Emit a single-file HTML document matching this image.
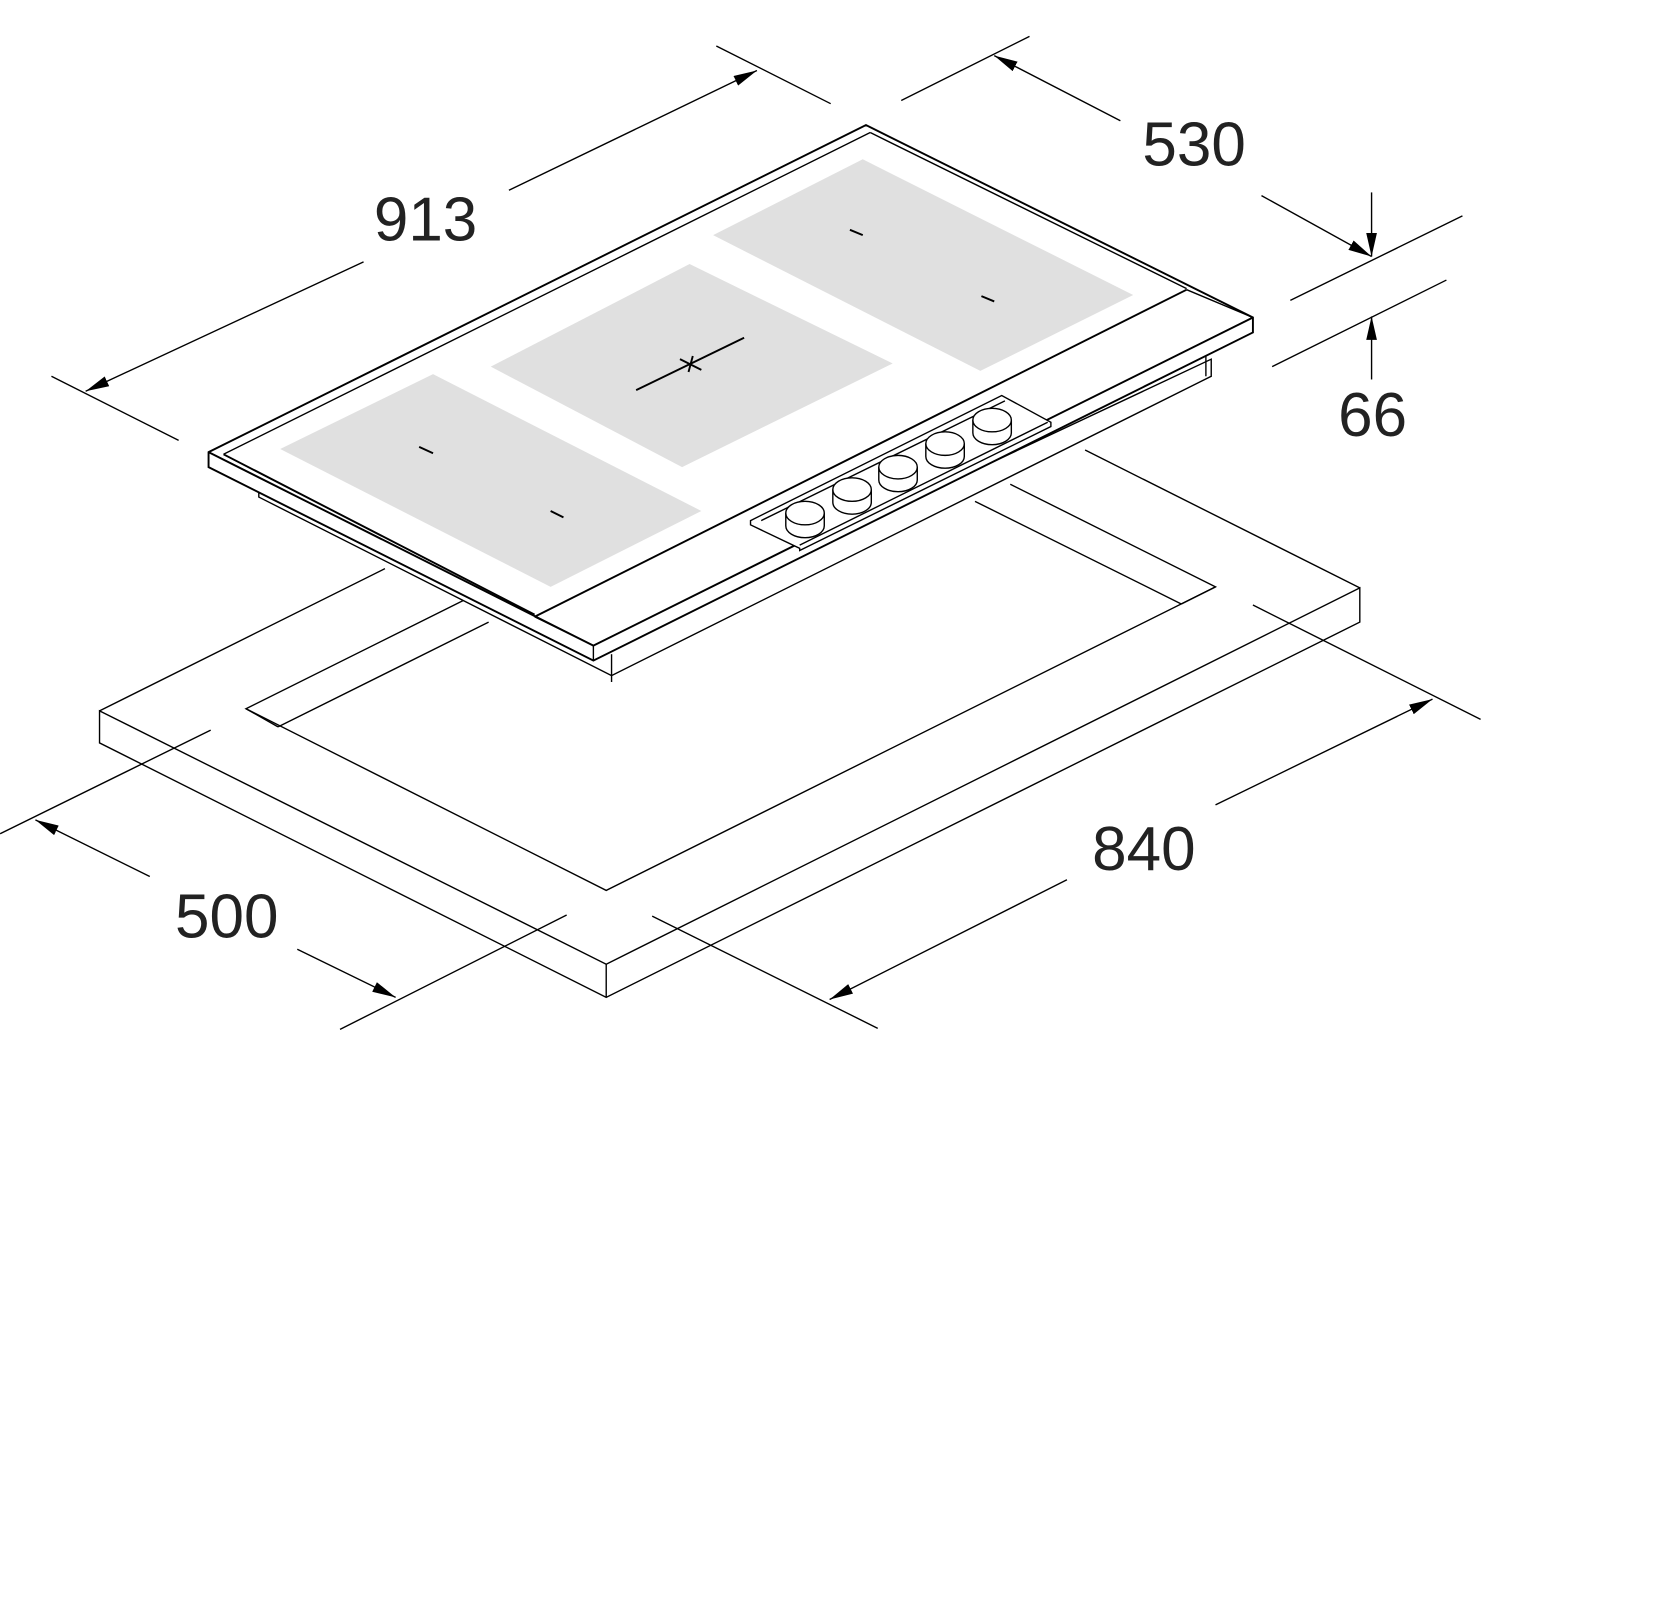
<!DOCTYPE html>
<html><head><meta charset="utf-8"><style>
html,body{margin:0;padding:0;background:#fff}
svg{display:block}
text{font-family:"Liberation Sans",sans-serif;font-size:58px;fill:#222;text-anchor:middle}
</style></head><body>
<svg width="1671" height="1597" viewBox="0 0 1563 1494" xmlns="http://www.w3.org/2000/svg">
<defs>
<marker id="a" viewBox="0 0 22 10" refX="22" refY="5" markerWidth="22" markerHeight="10" markerUnits="userSpaceOnUse" orient="auto"><path d="M0,0 L22,5 L0,10 z" fill="#000"/></marker>
</defs>
<g stroke="#000" stroke-width="1.3" fill="none">
<!-- countertop -->
<polygon points="93,665 567,902 1272,550 1272,582 567,933 93,695" fill="#fff"/>
<line x1="567" y1="902" x2="567" y2="933"/>
<line x1="93" y1="665" x2="360" y2="532"/>
<line x1="1272" y1="550" x2="1015" y2="421"/>
<!-- cutout -->
<polyline points="457,550 230,663 567,833 1137,549 945,453"/>
<line x1="230" y1="663" x2="260" y2="680"/>
<line x1="260" y1="680" x2="457" y2="582"/>
<line x1="1137" y1="549" x2="1105" y2="565"/>
<line x1="1105" y1="565" x2="912" y2="469"/>
<!-- hob under body -->
<polygon points="242,465 572,632 1133,352 1133,336 572,600 242,450" fill="#fff"/>
<line x1="572" y1="612" x2="572" y2="638"/>
<line x1="1128" y1="330" x2="1128" y2="352"/>
<!-- hob slab -->
<polygon points="195,423 810,117 1172,297 1172,311 555,618 195,437" fill="#fff" stroke-width="1.8"/>
<line x1="195" y1="423" x2="555" y2="604" stroke-width="1.8"/>
<line x1="555" y1="604" x2="1172" y2="297" stroke-width="1.8"/>
<line x1="555" y1="604" x2="555" y2="618"/>
<line x1="209" y1="425" x2="814" y2="124"/>
<line x1="814" y1="124" x2="1110" y2="270"/>
<line x1="209" y1="425" x2="500" y2="575" stroke-width="1.8"/>
<line x1="500" y1="577" x2="1110" y2="271" stroke-width="1.8"/>
<line x1="500" y1="577" x2="555" y2="604"/>
<line x1="1110" y1="271" x2="1172" y2="297"/>
<!-- zones -->
<polygon points="262,420 405,350 656,478 515,549" fill="#e0e0e0" stroke="none"/>
<polygon points="459,343 645,247 835,340 638,437" fill="#e0e0e0" stroke="none"/>
<polygon points="667,220 807,149 1060,276 917,347" fill="#e0e0e0" stroke="none"/>
<g stroke-width="1.8">
<line x1="392" y1="418" x2="405" y2="424"/>
<line x1="515" y1="478" x2="527" y2="484"/>
<line x1="795" y1="215" x2="807" y2="220"/>
<line x1="918" y1="277" x2="930" y2="282"/>
<line x1="595" y1="365" x2="696" y2="316"/>
<line x1="636" y1="336" x2="656" y2="346"/>
<line x1="648" y1="333" x2="644" y2="348"/>
</g>
<!-- control recess -->
<polygon points="702,487 937,370 983,395 983,399 748,515 748,513 702,491" fill="#fff"/>
<line x1="712" y1="487" x2="940" y2="375"/>
<line x1="748" y1="510" x2="980" y2="395"/>
<g fill="#fff">
<path d="M735,480 v12 a18,11 0 0 0 36,0 v-12"/><ellipse cx="753" cy="480" rx="18" ry="11"/>
<path d="M779,458 v12 a18,11 0 0 0 36,0 v-12"/><ellipse cx="797" cy="458" rx="18" ry="11"/>
<path d="M822,437 v12 a18,11 0 0 0 36,0 v-12"/><ellipse cx="840" cy="437" rx="18" ry="11"/>
<path d="M866,415 v12 a18,11 0 0 0 36,0 v-12"/><ellipse cx="884" cy="415" rx="18" ry="11"/>
<path d="M910,393 v12 a18,11 0 0 0 36,0 v-12"/><ellipse cx="928" cy="393" rx="18" ry="11"/>
</g>
<!-- dimension 913 -->
<line x1="670" y1="43" x2="777" y2="97"/>
<line x1="48" y1="352" x2="167" y2="412"/>
<line x1="340" y1="245" x2="80" y2="366" marker-end="url(#a)"/>
<line x1="476" y1="178" x2="708" y2="66" marker-end="url(#a)"/>
<!-- 530 -->
<line x1="843" y1="94" x2="963" y2="34"/>
<line x1="1207" y1="281" x2="1368" y2="202"/>
<line x1="1048" y1="113" x2="930" y2="52" marker-end="url(#a)"/>
<line x1="1180" y1="183" x2="1283" y2="240" marker-end="url(#a)"/>
<!-- 66 -->
<line x1="1190" y1="343" x2="1353" y2="262"/>
<line x1="1283" y1="180" x2="1283" y2="240" marker-end="url(#a)"/>
<line x1="1283" y1="355" x2="1283" y2="296" marker-end="url(#a)"/>
<!-- 840 -->
<line x1="1172" y1="566" x2="1385" y2="673"/>
<line x1="610" y1="857" x2="821" y2="962"/>
<line x1="1137" y1="753" x2="1340" y2="654" marker-end="url(#a)"/>
<line x1="998" y1="823" x2="776" y2="935" marker-end="url(#a)"/>
<!-- 500 -->
<line x1="0" y1="780" x2="197" y2="683"/>
<line x1="318" y1="963" x2="530" y2="856"/>
<line x1="140" y1="820" x2="33" y2="767" marker-end="url(#a)"/>
<line x1="278" y1="888" x2="370" y2="933" marker-end="url(#a)"/>
</g>
<text x="398" y="225">913</text>
<text x="1117" y="155">530</text>
<text x="1284" y="408">66</text>
<text x="1070" y="814">840</text>
<text x="212" y="877">500</text>
</svg>
</body></html>
